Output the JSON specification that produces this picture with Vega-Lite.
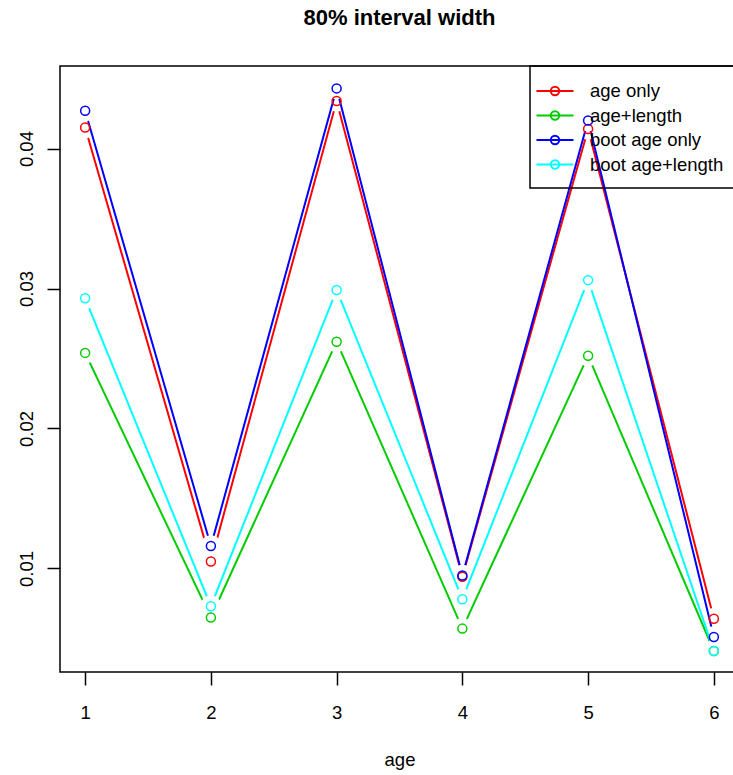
{
  "$schema": "https://vega.github.io/schema/vega-lite/v6.json",
  "width": 679,
  "height": 606,
  "autosize": {"type": "none"},
  "padding": {"left": 60, "top": 66, "right": -6, "bottom": 103},
  "background": "white",
  "title": {
    "text": "80% interval width",
    "font": "Liberation Sans",
    "fontSize": 22,
    "fontWeight": "bold",
    "color": "black",
    "anchor": "middle",
    "offset": 35,
    "dx": 0
  },
  "data": {
    "values": [
      {"age": 1, "model": "age only", "width": 0.0415},
      {"age": 2, "model": "age only", "width": 0.0105},
      {"age": 3, "model": "age only", "width": 0.0434},
      {"age": 4, "model": "age only", "width": 0.0094},
      {"age": 5, "model": "age only", "width": 0.0414},
      {"age": 6, "model": "age only", "width": 0.0064},
      {"age": 1, "model": "age+length", "width": 0.0254},
      {"age": 2, "model": "age+length", "width": 0.0065},
      {"age": 3, "model": "age+length", "width": 0.0262},
      {"age": 4, "model": "age+length", "width": 0.0057},
      {"age": 5, "model": "age+length", "width": 0.0252},
      {"age": 6, "model": "age+length", "width": 0.0041},
      {"age": 1, "model": "boot age only", "width": 0.0427},
      {"age": 2, "model": "boot age only", "width": 0.0116},
      {"age": 3, "model": "boot age only", "width": 0.0443},
      {"age": 4, "model": "boot age only", "width": 0.0095},
      {"age": 5, "model": "boot age only", "width": 0.0420},
      {"age": 6, "model": "boot age only", "width": 0.0051},
      {"age": 1, "model": "boot age+length", "width": 0.0293},
      {"age": 2, "model": "boot age+length", "width": 0.0073},
      {"age": 3, "model": "boot age+length", "width": 0.0299},
      {"age": 4, "model": "boot age+length", "width": 0.0078},
      {"age": 5, "model": "boot age+length", "width": 0.0306},
      {"age": 6, "model": "boot age+length", "width": 0.0041}
    ]
  },
  "encoding": {
    "x": {
      "field": "age",
      "type": "quantitative",
      "scale": {"domain": [0.8, 6.2], "nice": false, "zero": false},
      "axis": {
        "values": [1, 2, 3, 4, 5, 6],
        "format": "d",
        "domain": false,
        "grid": false,
        "ticks": true,
        "tickSize": 13,
        "tickWidth": 1.5,
        "tickColor": "black",
        "labelFont": "Liberation Sans",
        "labelFontSize": 18.5,
        "labelColor": "black",
        "labelPadding": 18,
        "labelFlush": false,
        "labelOverlap": false,
        "title": "age",
        "titleFont": "Liberation Sans",
        "titleFontSize": 18.5,
        "titleFontWeight": "normal",
        "titleColor": "black",
        "titlePadding": 29
      }
    },
    "y": {
      "field": "width",
      "type": "quantitative",
      "scale": {"domain": [0.0026, 0.0459], "nice": false, "zero": false},
      "axis": {
        "values": [0.01, 0.02, 0.03, 0.04],
        "format": ".2f",
        "domain": false,
        "grid": false,
        "tickSize": 13,
        "tickWidth": 1.5,
        "tickColor": "black",
        "labelFont": "Liberation Sans",
        "labelFontSize": 18.5,
        "labelColor": "black",
        "labelAngle": -90,
        "labelAlign": "center",
        "labelBaseline": "alphabetic",
        "labelPadding": 15,
        "labelFlush": false,
        "labelOverlap": false,
        "title": null
      }
    },
    "color": {
      "field": "model",
      "type": "nominal",
      "scale": {
        "domain": ["age only", "age+length", "boot age only", "boot age+length"],
        "range": ["#FF0000", "#00CD00", "#0000FF", "#00FFFF"]
      },
      "legend": {
        "title": null,
        "orient": "none",
        "legendX": 470,
        "legendY": 0,
        "padding": 14,
        "strokeColor": "black",
        "fillColor": null,
        "rowPadding": 3.5,
        "symbolType": "M-1.85,0H1.85M0.42,0A0.42,0.42,0,1,1,-0.42,0A0.42,0.42,0,1,1,0.42,0",
        "symbolSize": 400,
        "symbolStrokeWidth": 2,
        "symbolFillColor": "transparent",
        "labelFont": "Liberation Sans",
        "labelFontSize": 18.5,
        "labelColor": "black",
        "labelOffset": 24,
        "labelLimit": 400,
        "encode": {"legend": {"update": {"strokeWidth": {"value": 1.5}}}}
      }
    }
  },
  "layer": [
    {
      "transform": [{"filter": "datum.model === 'age only'"}],
      "mark": {"type": "line", "strokeWidth": 2}
    },
    {
      "transform": [{"filter": "datum.model === 'age only'"}],
      "mark": {"type": "point", "filled": true, "opacity": 1, "size": 460, "strokeWidth": 0},
      "encoding": {"color": {"value": "white"}}
    },
    {
      "transform": [{"filter": "datum.model === 'boot age only'"}],
      "mark": {"type": "line", "strokeWidth": 2}
    },
    {
      "transform": [{"filter": "datum.model === 'boot age only'"}],
      "mark": {"type": "point", "filled": true, "opacity": 1, "size": 460, "strokeWidth": 0},
      "encoding": {"color": {"value": "white"}}
    },
    {
      "transform": [{"filter": "datum.model === 'age+length'"}],
      "mark": {"type": "line", "strokeWidth": 2}
    },
    {
      "transform": [{"filter": "datum.model === 'age+length'"}],
      "mark": {"type": "point", "filled": true, "opacity": 1, "size": 460, "strokeWidth": 0},
      "encoding": {"color": {"value": "white"}}
    },
    {
      "transform": [{"filter": "datum.model === 'boot age+length'"}],
      "mark": {"type": "line", "strokeWidth": 2}
    },
    {
      "transform": [{"filter": "datum.model === 'boot age+length'"}],
      "mark": {"type": "point", "filled": true, "opacity": 1, "size": 460, "strokeWidth": 0},
      "encoding": {"color": {"value": "white"}}
    },
    {
      "mark": {"type": "point", "filled": false, "opacity": 1, "size": 81, "strokeWidth": 1.5}
    }
  ],
  "config": {
    "view": {"stroke": "black", "strokeWidth": 1.5}
  }
}
